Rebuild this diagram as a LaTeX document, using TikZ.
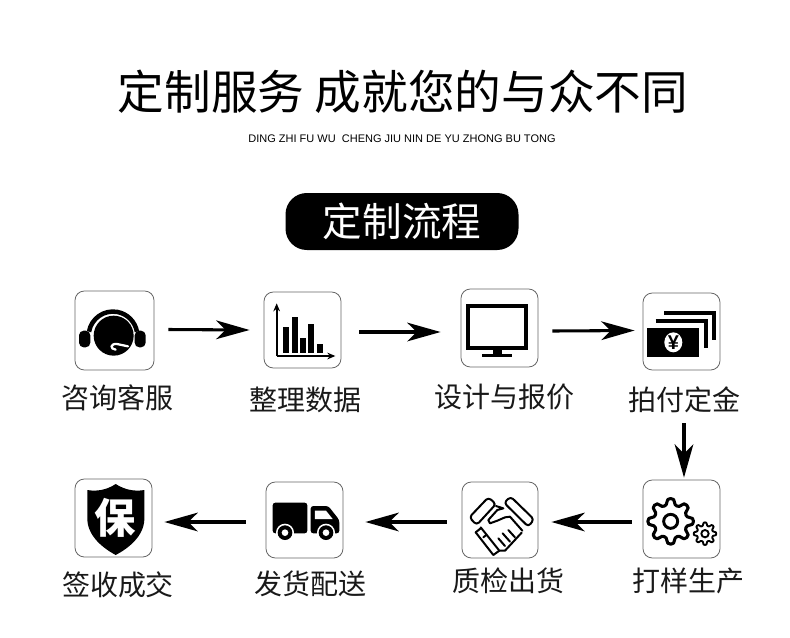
\documentclass[tikz,border=0pt]{standalone}
\usepackage{fontspec}
\usetikzlibrary{arrows.meta}
\setmainfont{Liberation Sans}
\newfontfamily\cjk{Noto Sans CJK SC}
\tikzset{
  box/.style n args={2}{draw=black!60,line width=0.6pt,rounded corners=7pt,fill=white,inner sep=0pt,minimum width=#1*0.75pt,minimum height=#2*0.75pt},
  arr/.style={line width=2.3pt,-{Stealth[length=25pt,width=14pt,inset=7pt]}},
  lab/.style={font=\cjk\fontsize{21}{21}\selectfont,inner sep=0pt,text=black!90},
  zoomA/.style={shift={(50,280)},scale=1/3},
  zoomB/.style={shift={(430,280)},scale=1/3},
  zoomC/.style={shift={(50,470)},scale=1/3},
  zoomH/.style={shift={(73,289)},scale=1/3},
  zoomS/.style={shift={(460,480)},scale=1/3},
  zoomG/.style={shift={(640,478)},scale=1/3},
}
\begin{document}
\begin{tikzpicture}[x=0.75pt,y=-0.75pt]
\path[fill=white,use as bounding box] (0,0) rectangle (790,637);
% headings
\node[inner sep=0pt,font=\cjk\fontsize{35}{35}\selectfont] (title) at (403,92) {定制服务 成就您的与众不同};
\node[inner sep=0pt,font=\fontsize{8.25}{9}\selectfont] (sub) at (402,139) {DING ZHI FU WU\ \ CHENG JIU NIN DE YU ZHONG BU TONG};
\node[fill=black,rounded corners=16pt,minimum width=233*0.75pt,minimum height=57*0.75pt,inner sep=0pt,text=white,font=\cjk\fontsize{29.7}{30}\selectfont] (badge) at (402,221.5) {定制流程};
% boxes
\node[box={79}{79}] (b1) at (114.5,330.5) {};
\node[box={77}{76}] (b2) at (302.5,330) {};
\node[box={77}{78}] (b3) at (499.5,328) {};
\node[box={77}{77}] (b4) at (681.5,331.5) {};
\node[box={77}{78}] (b5) at (681.5,519) {};
\node[box={76}{76}] (b6) at (500,520) {};
\node[box={77}{76}] (b7) at (304.5,520) {};
\node[box={77}{78}] (b8) at (113.5,518) {};
% labels
\node[lab] (l1) at (117,398) {咨询客服};
\node[lab] (l2) at (305,400) {整理数据};
\node[lab] (l3) at (504,397) {设计与报价};
\node[lab] (l4) at (684,400) {拍付定金};
\node[lab] (l5) at (688,581) {打样生产};
\node[lab] (l6) at (508,581) {质检出货};
\node[lab] (l7) at (310,584) {发货配送};
\node[lab] (l8) at (118,585) {签收成交};
% connectors
\draw[arr] ([shift={(14,-1)}]b1.east) -- ([shift={(-14,0)}]b2.west);
\draw[arr] ([shift={(18,2)}]b2.east) -- ([shift={(-20,4)}]b3.west);
\draw[arr] ([shift={(14,3)}]b3.east) -- ([shift={(-8,-1)}]b4.west);
\draw[arr] ([shift={(0,10)}]l4.south) -- ([shift={(2.5,-2)}]b5.north);
\draw[arr] ([shift={(-11,3)}]b5.west) -- ([shift={(13,2)}]b6.east);
\draw[arr] ([shift={(-15,2)}]b6.west) -- ([shift={(22,2)}]b7.east);
\draw[arr] ([shift={(-20,2)}]b7.west) -- ([shift={(12,4)}]b8.east);
% icon 1: headset
\begin{scope}[zoomH]
  \draw[line width=3.4pt] (48,128) arc (190:350:73);
  \fill (122,140) circle (60);
  \fill[rounded corners=3.5pt] (18,125) rectangle (52,175);
  \fill[rounded corners=3.5pt] (185,125) rectangle (218,175);
  \draw[white,line width=1.7pt,line cap=round] (165,172) -- (132,165) .. controls (112,163) and (110,180) .. (128,182);
\end{scope}
% icon 2: chart
\begin{scope}[zoomA]
  \draw[line width=1.7pt,-{Stealth[length=6pt,width=5pt]}] (680,228) -- (680,70);
  \draw[line width=1.7pt,-{Stealth[length=6pt,width=5pt]}] (680,228) -- (856,228);
  \fill (698,142) rectangle (717,220);
  \fill (725,112) rectangle (745,220);
  \fill (750,175) rectangle (768,220);
  \fill (775,133) rectangle (793,220);
  \fill (800,192) rectangle (818,220);
\end{scope}
% icon 3: monitor
\begin{scope}[zoomB]
  \draw[line width=3pt] (115,77) rectangle (287,203);
  \fill (188,208) rectangle (215,222);
  \fill (155,222) rectangle (245,231);
\end{scope}
% icon 4: money
\begin{scope}[zoomB]
  \draw[line width=3pt] (702,98) -- (851,98) -- (851,180);
  \draw[line width=3pt] (677,122) -- (827,122) -- (827,205);
  \fill (652,143) rectangle (808,230);
  \fill[white] (730,187) ellipse (27 and 30);
  \node[inner sep=0pt,font=\bfseries\fontsize{15}{15}\selectfont] (yen) at (730,187) {¥};
\end{scope}
% icon 5: gears
\begin{scope}[zoomG]
  \draw[line width=2.3pt,line join=round,shift={(92,130)}] plot[smooth cycle,domain=0:352.5,samples=48] ({cos(\x)*(59+9.5*max(-1,min(1,1.5*cos(8*\x))))},{sin(\x)*(59+9.5*max(-1,min(1,1.5*cos(8*\x))))});
  \draw[line width=2.2pt] (92,130) circle (21);
  \draw[line width=1.4pt,line join=round,shift={(195,167)}] plot[smooth cycle,domain=0:352.5,samples=48] ({cos(\x)*(29+5*max(-1,min(1,1.5*cos(8*\x))))},{sin(\x)*(29+5*max(-1,min(1,1.5*cos(8*\x))))});
  \draw[line width=1.4pt] (195,167) circle (11);
\end{scope}
% icon 6: handshake
\begin{scope}[zoomS,line width=1.5pt,line join=round,line cap=round]
  \draw[rounded corners=2.5pt] (85,52) -- (108,72) -- (50,135) -- (28,112) -- cycle;
  \draw[rounded corners=2.5pt] (152,50) -- (222,118) -- (205,140) -- (132,68) -- cycle;
  \draw (108,78) -- (130,85) -- (112,90) -- (85,120) -- (90,130) -- (112,122) -- (135,112) -- (150,110) -- (187,152);
  \draw (62,142) -- (118,212) -- (135,212) -- (185,158);
  \draw (47,157) -- (100,225) -- (118,212);
  \draw (47,157) -- (62,145);
  \draw (115,175) -- (135,198);
  \draw (128,160) -- (150,185);
  \draw (145,150) -- (165,172);
  \draw (70,172) -- (80,164);
\end{scope}
% icon 7: truck
\begin{scope}[zoomC]
  \fill[rounded corners=2pt] (668,98) rectangle (772,190);
  \fill[rounded corners=2pt] (782,108) -- (835,108) -- (868,150) -- (868,190) -- (782,190) -- cycle;
  \fill[white] (795,122) -- (828,122) -- (848,147) -- (795,147) -- cycle;
  \fill[white] (705,188) circle (27);
  \fill[white] (828,188) circle (27);
  \fill (705,188) circle (22);
  \fill (828,188) circle (22);
  \fill[white] (705,188) circle (10);
  \fill[white] (828,188) circle (10);
\end{scope}
% icon 8: shield
\begin{scope}[zoomC]
  \fill (197,42) .. controls (170,60) and (140,65) .. (112,60) -- (112,150) .. controls (115,200) and (160,235) .. (197,255) .. controls (235,235) and (280,200) .. (283,150) -- (283,60) .. controls (255,65) and (225,60) .. (197,42) -- cycle;
  \node[inner sep=0pt,text=white,font=\cjk\bfseries\fontsize{31}{31}\selectfont] (bao) at (197,142) {保};
\end{scope}
\end{tikzpicture}
\end{document}
